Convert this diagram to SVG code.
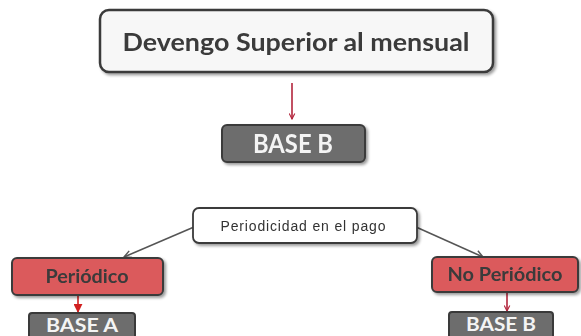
<svg xmlns="http://www.w3.org/2000/svg" width="581" height="336" viewBox="0 0 581 336">
<style>
text{font-family:Lato,"Open Sans","DejaVu Sans",sans-serif;text-anchor:middle}
.title{font-size:25px;fill:#3a3a3a;font-weight:bold}
.gray rect{fill:#6d6d6d;stroke:#3a3a3a;stroke-width:2}
.gray text{fill:#f4f4f4;font-weight:bold}
.red rect{fill:#db5a5c;stroke:#3a3a3a;stroke-width:2}
.red text{fill:#3a3a3a;font-weight:bold;font-size:19px}
.cred{stroke:#b3253c;stroke-width:1.6;fill:none}
.cgray{stroke:#555;stroke-width:1.6;fill:none}
</style>
<defs>
<filter id="sh" x="-10%" y="-20%" width="130%" height="150%">
<feGaussianBlur in="SourceAlpha" stdDeviation="1.5"/>
<feOffset dx="1.5" dy="2" result="b"/>
<feComponentTransfer><feFuncA type="linear" slope="0.4"/></feComponentTransfer>
<feMerge><feMergeNode/><feMergeNode in="SourceGraphic"/></feMerge>
</filter>
<marker id="ar" viewBox="0 0 10 10" refX="9" refY="5" markerWidth="7" markerHeight="7" orient="auto" markerUnits="userSpaceOnUse">
<path d="M1,1 L9,5 L1,9" fill="none" stroke="#b3253c" stroke-width="1.6"/>
</marker>
<marker id="ag" viewBox="0 0 10 10" refX="9" refY="5" markerWidth="9" markerHeight="9" orient="auto" markerUnits="userSpaceOnUse">
<path d="M1,1 L9,5 L1,9" fill="none" stroke="#555" stroke-width="1.6"/>
</marker>
<marker id="at" viewBox="0 0 10 10" refX="9" refY="5" markerWidth="9" markerHeight="9" orient="auto" markerUnits="userSpaceOnUse">
<path d="M0,0 L10,5 L0,10 Z" fill="#d11f1f"/>
</marker>
</defs>
<g id="connectors">
<line class="cred" x1="292" y1="83" x2="292" y2="119" marker-end="url(#ar)"/>
<line class="cgray" x1="194" y1="227" x2="124" y2="257" marker-end="url(#ag)"/>
<line class="cgray" x1="416" y1="227" x2="483" y2="257" marker-end="url(#ag)"/>
<line x1="78" y1="296" x2="78" y2="312" stroke="#d11f1f" stroke-width="1.6" marker-end="url(#at)"/>
<line class="cred" x1="507" y1="293" x2="507" y2="311" marker-end="url(#ar)"/>
</g>
<g id="n-devengo" filter="url(#sh)">
<rect x="100" y="10" width="393" height="62" rx="9" fill="#f7f7f7" stroke="#3a3a3a" stroke-width="2.5"/>
<text class="title" x="296" y="51" textLength="347" lengthAdjust="spacingAndGlyphs">Devengo Superior al mensual</text>
</g>
<g id="n-baseb1" class="gray" filter="url(#sh)">
<rect x="222" y="125" width="143" height="37" rx="5"/>
<text x="293" y="153" font-size="27" textLength="80" lengthAdjust="spacingAndGlyphs">BASE B</text>
</g>
<g id="n-periodicidad" filter="url(#sh)">
<rect x="193" y="208" width="224" height="35" rx="6" fill="#fff" stroke="#3a3a3a" stroke-width="1.8"/>
<text x="303" y="231" font-size="14" fill="#333" textLength="165" lengthAdjust="spacing" style="font-family:'Liberation Sans',Arial,sans-serif">Periodicidad en el pago</text>
</g>
<g id="n-periodico" class="red" filter="url(#sh)">
<rect x="12" y="258" width="151" height="37" rx="5"/>
<text x="87" y="283" textLength="83" lengthAdjust="spacingAndGlyphs">Periódico</text>
</g>
<g id="n-noperiodico" class="red" filter="url(#sh)">
<rect x="432" y="257" width="146" height="35" rx="5"/>
<text x="505" y="281" textLength="115" lengthAdjust="spacingAndGlyphs">No Periódico</text>
</g>
<g id="n-basea" class="gray">
<rect x="29" y="313" width="106" height="30" rx="3"/>
<text x="82" y="332" font-size="19" textLength="72" lengthAdjust="spacingAndGlyphs">BASE A</text>
</g>
<g id="n-baseb2" class="gray">
<rect x="449" y="312" width="104" height="30" rx="3"/>
<text x="501" y="331" font-size="19" textLength="70" lengthAdjust="spacingAndGlyphs">BASE B</text>
</g>
</svg>
